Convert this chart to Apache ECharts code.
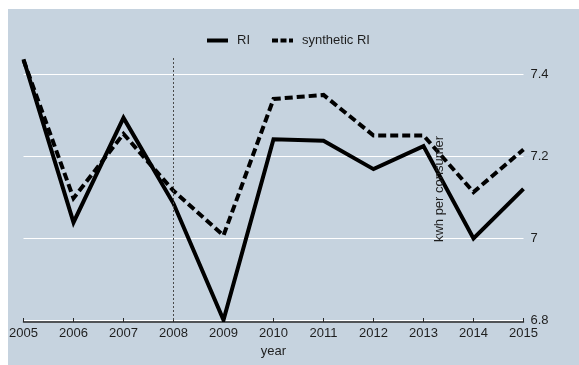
<!DOCTYPE html>
<html>
<head>
<meta charset="utf-8">
<script src="https://cdn.jsdelivr.net/npm/echarts@6/dist/echarts.min.js"></script>
<style>
  html, body { margin: 0; padding: 0; background: #ffffff; }
  #chart { width: 579px; height: 365px; }
</style>
</head>
<body>
<div id="chart"></div>
<script>
// Annual electricity use, Rhode Island vs. its synthetic control
const years = ['2005', '2006', '2007', '2008', '2009', '2010', '2011', '2012', '2013', '2014', '2015'];
const riValues = [7.436, 7.038, 7.293, 7.084, 6.800, 7.241, 7.237, 7.168, 7.224, 6.999, 7.120];
const syntheticValues = [7.434, 7.097, 7.254, 7.115, 7.006, 7.339, 7.349, 7.250, 7.250, 7.112, 7.216];
const yTicks = [6.8, 7.0, 7.2, 7.4];
const treatmentYear = '2008';

const bg = '#c6d3df';
const ink = '#1e1e1e';
const font = '"Liberation Sans", Arial, sans-serif';

// legend keys: a solid bar and a dashed bar
const solidKey = 'path://M0,0H21V4H0Z';
const dashedKey = 'path://M0,0H6V4H0Z M8.5,0H14.5V4H8.5Z M17,0H21V4H17Z';

const chart = echarts.init(document.getElementById('chart'), null, { renderer: 'canvas' });

chart.setOption({
  backgroundColor: '#ffffff',
  animation: false,
  graphic: [
    { type: 'rect', z: -10, shape: { x: 8, y: 9, width: 571, height: 356 }, style: { fill: bg } },
    {
      type: 'text', z: 10, x: 439, y: 189, rotation: Math.PI / 2,
      style: { text: 'kwh per consumer', fill: ink, font: '13px ' + font, align: 'center', verticalAlign: 'middle' }
    }
  ],
  legend: {
    left: 202, top: 29,
    itemWidth: 21, itemHeight: 4, itemGap: 22,
    textStyle: { color: ink, fontFamily: font, fontSize: 13, padding: [0, 0, 0, 4] },
    data: [
      { name: 'RI', icon: solidKey, itemStyle: { color: '#000000' } },
      { name: 'synthetic RI', icon: dashedKey, itemStyle: { color: '#000000' } }
    ]
  },
  grid: { left: 23.5, right: 55.5, top: 57.6, bottom: 45, containLabel: false },
  xAxis: {
    type: 'category', data: years, boundaryGap: false, offset: 2,
    name: 'year', nameLocation: 'middle', nameGap: 18,
    nameTextStyle: { color: ink, fontFamily: font, fontSize: 13 },
    axisLine: { show: true, lineStyle: { color: '#2a2a2a', width: 1.5 } },
    axisTick: { show: true, inside: true, length: 4, alignWithLabel: true, lineStyle: { color: '#2a2a2a', width: 1 } },
    axisLabel: { color: ink, fontFamily: font, fontSize: 13, margin: 5 },
    splitLine: { show: false }
  },
  yAxis: {
    type: 'value', position: 'right', min: 6.8, max: 7.44, interval: 0.2,
    axisLine: { show: false }, axisTick: { show: false },
    axisLabel: {
      color: ink, fontFamily: font, fontSize: 13, margin: 7,
      showMaxLabel: false,
      formatter: v => {
        const t = yTicks.find(k => Math.abs(k - v) < 1e-6);
        return t === undefined ? '' : String(+t.toFixed(1));
      }
    },
    splitLine: { show: true, showMinLine: true, showMaxLine: false, lineStyle: { color: '#ffffff', width: 1 } }
  },
  series: [
    {
      name: 'RI', type: 'line', data: riValues, symbol: 'none',
      lineStyle: { color: '#000000', width: 4, join: 'miter' },
      itemStyle: { color: '#000000' },
      markLine: {
        silent: true, symbol: 'none', label: { show: false },
        lineStyle: { color: '#4a4a4a', type: [2, 2], width: 1 },
        data: [{ xAxis: treatmentYear }]
      }
    },
    {
      name: 'synthetic RI', type: 'line', data: syntheticValues, symbol: 'none',
      lineStyle: { color: '#000000', width: 4, type: [8, 4], join: 'miter' },
      itemStyle: { color: '#000000' }
    }
  ]
});
</script>
</body>
</html>
